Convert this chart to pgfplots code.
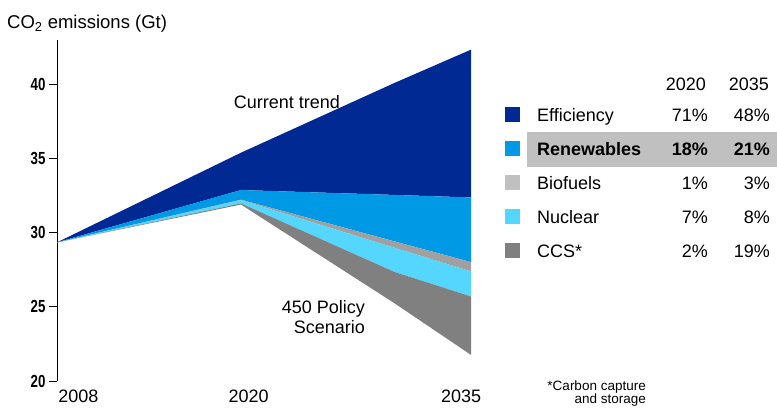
\documentclass[border=0pt]{standalone}
\usepackage{pgfplots}
\pgfplotsset{compat=1.18}
\usepackage{fontspec}
\setmainfont{Liberation Sans}
\definecolor{effic}{RGB}{0,41,147}
\definecolor{renew}{RGB}{0,153,230}
\definecolor{bioarea}{RGB}{160,160,160}
\definecolor{biokey}{RGB}{192,192,192}
\definecolor{nuc}{RGB}{85,214,255}
\definecolor{ccs}{RGB}{128,128,128}
\definecolor{hl}{RGB}{192,192,192}
\newcommand{\yt}[1]{\scalebox{0.76}[1]{\fontsize{17.5bp}{19bp}\selectfont\bfseries #1}}
\begin{document}
\begin{tikzpicture}[x=1bp,y=1bp,font=\fontsize{18bp}{21bp}\selectfont]
\path[use as bounding box] (0,0) rectangle (777,409);
\begin{axis}[at={(57bp,28bp)}, anchor=south west, scale only axis,
  width=414bp, height=341bp, xmin=2008, xmax=2035, ymin=20, ymax=43,
  axis lines*=left, x axis line style={draw=none},
  y axis line style={line width=0.8pt},
  xtick=\empty,
  ytick={20,25,30,35,40}, yticklabels={\yt{20},\yt{25},\yt{30},\yt{35},\yt{40}},
  ytick pos=left, tick align=outside, major tick length=8bp,
  y tick style={line width=0.8pt, black},
  clip=false]
% Efficiency
\addplot[fill=effic, draw=none] coordinates {(2008,29.35) (2020,35.4) (2030,40.1) (2035,42.35) (2035,32.38) (2030,32.55) (2020,32.88) (2008,29.35)};
% Renewables
\addplot[fill=renew, draw=none] coordinates {(2008,29.35) (2020,32.88) (2030,32.55) (2035,32.38) (2035,28.02) (2030,29.42) (2020,32.23) (2008,29.35)};
% Biofuels
\addplot[fill=bioarea, draw=none] coordinates {(2008,29.35) (2020,32.23) (2030,29.42) (2035,28.02) (2035,27.39) (2030,28.99) (2020,32.2) (2008,29.35)};
% Nuclear
\addplot[fill=nuc, draw=none] coordinates {(2008,29.35) (2020,32.2) (2030,28.99) (2035,27.39) (2035,25.7) (2030,27.36) (2020,31.98) (2008,29.35)};
% CCS
\addplot[fill=ccs, draw=none] coordinates {(2008,29.35) (2020,31.98) (2030,27.36) (2035,25.7) (2035,21.76) (2030,25.25) (2020,31.9) (2008,29.35)};
\node[anchor=base] at (axis cs:2009.4,20) [yshift=-21bp] {2008};
\node[anchor=base] at (axis cs:2020.5,20) [yshift=-21bp] {2020};
\node[anchor=base] at (axis cs:2034.35,20) [yshift=-21bp] {2035};
\end{axis}
% title
\node[anchor=base west, inner sep=0, font=\fontsize{18.5bp}{21bp}\selectfont] at (7,381) {CO\textsubscript{2} emissions (Gt)};
% annotations
\node[anchor=base, inner sep=0] at (287,301) {Current trend};
\node[anchor=base east, inner sep=0, align=right] at (365,96) {450 Policy};
\node[anchor=base east, inner sep=0, align=right] at (365,76) {Scenario};
% legend table
\fill[hl] (527,242) rectangle (777,277);
\node[anchor=base east, inner sep=0] at (706,319) {2020};
\node[anchor=base east, inner sep=0] at (769,319) {2035};
\foreach \yy/\col/\name/\a/\b in {288/effic/Efficiency/71/48, 220/biokey/Biofuels/1/3, 186/nuc/Nuclear/7/8, 152/ccs/CCS*/2/19}{
  \fill[\col] (505,\yy-1) rectangle (520,\yy+14);
  \node[anchor=base west, inner sep=0] at (537,\yy) {\name};
  \node[anchor=base east, inner sep=0] at (708,\yy) {\a\%};
  \node[anchor=base east, inner sep=0] at (770,\yy) {\b\%};
}
\fill[renew] (505,253) rectangle (520,268);
\node[anchor=base west, inner sep=0] at (537,254) {\bfseries Renewables};
\node[anchor=base east, inner sep=0] at (708,254) {\bfseries 18\%};
\node[anchor=base east, inner sep=0] at (770,254) {\bfseries 21\%};
% footnote
\node[anchor=base east, inner sep=0, font=\fontsize{13.5bp}{15bp}\selectfont] at (646,19) {*Carbon capture};
\node[anchor=base east, inner sep=0, font=\fontsize{13.5bp}{15bp}\selectfont] at (646,6) {and storage};
\end{tikzpicture}
\end{document}
